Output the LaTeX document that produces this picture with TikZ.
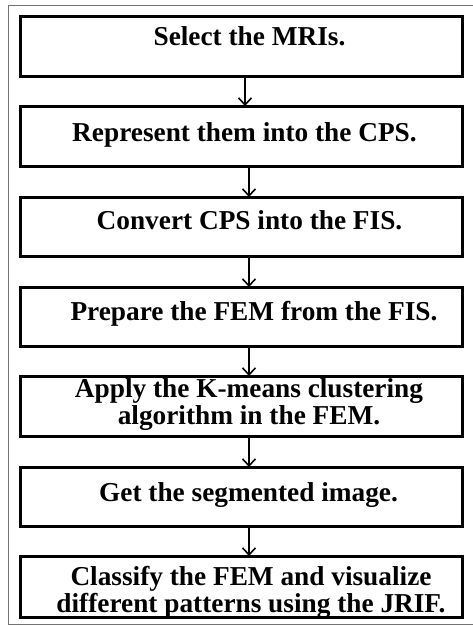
\documentclass[tikz,border=0pt]{standalone}
\usepackage{fontspec}
\setmainfont{Liberation Serif}
\usetikzlibrary{arrows.meta}
\begin{document}
\begin{tikzpicture}[x=1pt,y=-1pt,
  stepbox/.style={draw=black,line width=3pt,rectangle,inner sep=0pt,outer sep=0pt,minimum width=442pt},
  steptext/.style={font=\bfseries\fontsize{27.3}{27}\selectfont,inner sep=0pt,anchor=base,align=center},
  flow/.style={line width=1.6pt,-{Straight Barb[length=7pt,width=13pt,line width=1.6pt]}},
  frameline/.style={draw=black!55,line width=1pt}]
\useasboundingbox (0,0) rectangle (473,627);
\fill[white] (0,0) rectangle (473,627);
\draw[frameline] (480,5) -- (8,5) -- (8,624) -- (480,624);
% boxes
\node[stepbox,minimum height=60pt] (b1) at (241,46) {};
\node[stepbox,minimum height=60pt] (b2) at (241,136) {};
\node[stepbox,minimum height=59pt] (b3) at (241,226.5) {};
\node[stepbox,minimum height=59pt] (b4) at (241,316.5) {};
\node[stepbox,minimum height=60pt] (b5) at (241,406) {};
\node[stepbox,minimum height=59pt] (b6) at (241,496.5) {};
\node[stepbox,minimum height=61pt] (b7) at (241,586.5) {};
% texts
\node[steptext] (t1) at (249.5,45) {Select the MRIs.};
\node[steptext] (t2) at (244.5,141) {Represent them into the CPS.};
\node[steptext] (t3) at (249.5,229) {Convert CPS into the FIS.};
\node[steptext] (t4) at (254,320) {Prepare the FEM from the FIS.};
\node[steptext] (t5) at (249,424) {Apply the K-means clustering\\algorithm in the FEM.};
\node[steptext] (t6) at (248.5,501) {Get the segmented image.};
\node[steptext] (t7) at (251,612) {Classify the FEM and visualize\\different patterns using the JRIF.};
% arrows
\draw[flow] ([xshift=4pt]b1.south) -- ([xshift=4pt]b2.north);
\draw[flow] ([xshift=8pt]b2.south) -- ([xshift=8pt]b3.north);
\draw[flow] ([xshift=8pt]b3.south) -- ([xshift=8pt]b4.north);
\draw[flow] ([xshift=8pt]b4.south) -- ([xshift=8pt]b5.north);
\draw[flow] ([xshift=8pt]b5.south) -- ([xshift=8pt]b6.north);
\draw[flow] ([xshift=8pt]b6.south) -- ([xshift=8pt]b7.north);
\end{tikzpicture}
\end{document}
